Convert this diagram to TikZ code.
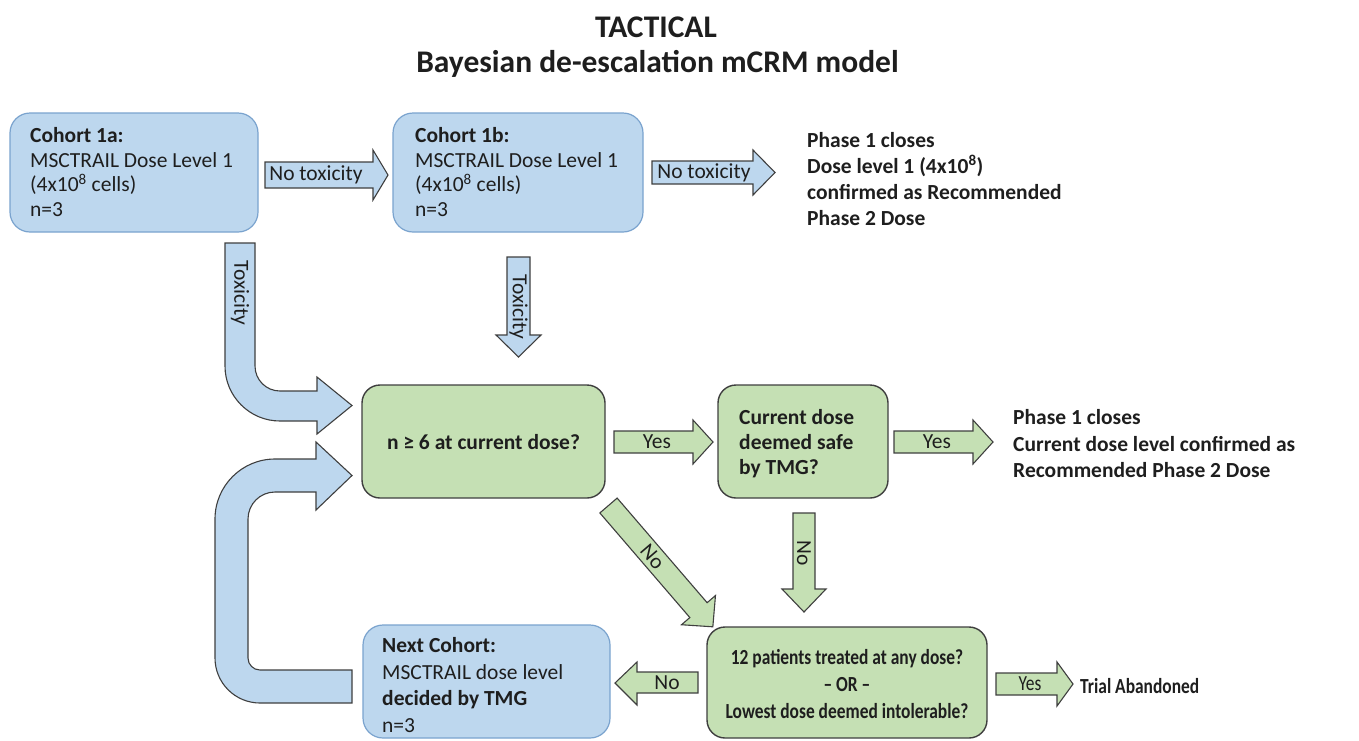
\documentclass[tikz,border=0pt]{standalone}
\usepackage{fontspec}
\setmainfont{Carlito}
\newfontfamily\condf[FakeStretch=0.81]{Carlito}
\definecolor{lblue}{HTML}{BDD7EE}
\definecolor{boxblue}{HTML}{7AA3CE}
\definecolor{lgreen}{HTML}{C5E0B4}
\definecolor{dgray}{HTML}{3F3F3F}
\definecolor{tcol}{HTML}{1E1E1E}
\newcommand\fs{\fontsize{21.5}{24.5}\selectfont}
\newcommand\fsb{\fontsize{21.5}{26}\selectfont\bfseries}
\tikzset{
  bluebox/.style={draw=boxblue, fill=lblue, rounded corners=20pt, line width=1.2pt, inner sep=0pt},
  greenbox/.style={draw=dgray, fill=lgreen, rounded corners=18pt, line width=1.4pt, inner sep=0pt},
  barrowb/.style={draw=dgray, fill=lblue, line width=1.1pt, line join=miter},
  barrowg/.style={draw=dgray, fill=lgreen, line width=1.1pt, line join=miter},
  txt/.style={font=\fs, text=tcol, inner sep=0pt, align=left},
  txtb/.style={font=\fsb, text=tcol, inner sep=0pt, align=left},
  albl/.style={font=\fs, text=tcol, inner sep=0pt},
}
\begin{document}
\begin{tikzpicture}[x=1pt,y=1pt]
\useasboundingbox (0,0) rectangle (1359,-740);
% title
\node[font=\fontsize{31.5}{36}\selectfont\bfseries, text=tcol, anchor=base, inner sep=0pt] (t1) at (656,-37) {TACTICAL};
\node[font=\fontsize{31.5}{36}\selectfont\bfseries, text=tcol, anchor=base, inner sep=0pt] (t2) at (657.5,-72) {Bayesian de-escalation mCRM model};

% boxes
\node[bluebox, minimum width=248pt, minimum height=119pt] (c1a) at (134,-172.5) {};
\node[txt, anchor=west] (c1at) at (30,-172) {\textbf{Cohort 1a:}\\MSCTRAIL Dose Level 1\\(4x10\textsuperscript{8} cells)\\n=3};

\node[bluebox, minimum width=250pt, minimum height=119pt] (c1b) at (518,-172.5) {};
\node[txt, anchor=west] (c1bt) at (415,-172) {\textbf{Cohort 1b:}\\MSCTRAIL Dose Level 1\\(4x10\textsuperscript{8} cells)\\n=3};

\node[txtb, anchor=west] (ph1) at (807,-179) {Phase 1 closes\\Dose level 1 (4x10\textsuperscript{8})\\confirmed as Recommended\\Phase 2 Dose};

\node[greenbox, minimum width=243pt, minimum height=113pt] (q1b) at (483.5,-441.5) {};
\node[txtb] (q1) at (483.5,-442) {n ≥ 6 at current dose?};

\node[greenbox, minimum width=170pt, minimum height=113pt] (q2b) at (803,-441.5) {};
\node[txtb, anchor=west, font=\fontsize{21.5}{25}\selectfont\bfseries] (q2) at (739,-444) {Current dose\\deemed safe\\by TMG?};

\node[txtb, anchor=west, font=\fontsize{21.5}{26.5}\selectfont\bfseries] (ph2) at (1013,-444) {Phase 1 closes\\Current dose level confirmed as\\Recommended Phase 2 Dose};

\node[greenbox, minimum width=280pt, minimum height=111pt] (q3b) at (847,-682.5) {};
\node[txtb, align=center, font=\fontsize{21.5}{27}\selectfont\condf\bfseries] (q3) at (847,-684) {12 patients treated at any dose?\\– OR –\\Lowest dose deemed intolerable?};

\node[bluebox, minimum width=247pt, minimum height=113pt] (ncb) at (486.5,-681.5) {};
\node[txt, anchor=west, font=\fontsize{21.5}{26.5}\selectfont] (nc) at (382,-685) {\textbf{Next Cohort:}\\MSCTRAIL dose level\\\textbf{decided by TMG}\\n=3};

\node[txtb, anchor=west, font=\fontsize{21.5}{26}\selectfont\condf\bfseries] (ab) at (1080,-686) {Trial Abandoned};

% arrows
\draw[barrowb] (265,-162) -- (373,-162) -- (373,-150) -- (388,-175) -- (373,-200) -- (373,-188) -- (265,-188) -- cycle;
\node[albl] (nt1) at (316,-175) {No toxicity};

\draw[barrowb] (652,-161) -- (753,-161) -- (753,-150) -- (775,-172.5) -- (753,-195) -- (753,-184) -- (652,-184) -- cycle;
\node[albl] (nt2) at (704,-172.5) {No toxicity};

\draw[barrowb] (225,-243) -- (225,-366) arc[start angle=180, end angle=270, radius=55] -- (317,-421) -- (317,-434) -- (352,-405.5) -- (317,-377) -- (317,-391) -- (280,-391) arc[start angle=270, end angle=180, radius=25] -- (255,-243) -- cycle;
\node[albl, rotate=-90] (tx1) at (240,-293) {Toxicity};

\draw[barrowb] (507,-257) -- (530,-257) -- (530,-335) -- (541,-335) -- (518.5,-357) -- (496,-335) -- (507,-335) -- cycle;
\node[albl, rotate=-90] (tx2) at (518.5,-307) {Toxicity};

\draw[barrowg] (614,-431) -- (693,-431) -- (693,-420) -- (713,-442) -- (693,-464) -- (693,-453) -- (614,-453) -- cycle;
\node[albl] (y1) at (657,-442) {Yes};

\draw[barrowg] (894,-431) -- (973,-431) -- (973,-420) -- (993,-442) -- (973,-464) -- (973,-453) -- (894,-453) -- cycle;
\node[albl] (y2) at (937,-442) {Yes};

\begin{scope}[shift={(608.5,-505.5)}, rotate=-49.3]
\draw[barrowg] (0,11.4) -- (138,11.4) -- (138,22.4) -- (160,0) -- (138,-22.4) -- (138,-11.4) -- (0,-11.4) -- cycle;
\end{scope}
\node[albl, rotate=-49.3] (n1) at (652.4,-556.6) {No};

\draw[barrowg] (793,-513) -- (815,-513) -- (815,-589) -- (826,-589) -- (804,-612) -- (782,-589) -- (793,-589) -- cycle;
\node[albl, rotate=-90] (n2) at (804,-553) {No};

\draw[barrowg] (698,-672) -- (637,-672) -- (637,-662) -- (615,-683) -- (637,-705) -- (637,-693) -- (698,-693) -- cycle;
\node[albl] (n3) at (667,-683) {No};

\draw[barrowg] (996,-673) -- (1057,-673) -- (1057,-662) -- (1073,-684) -- (1057,-706) -- (1057,-695) -- (996,-695) -- cycle;
\node[albl, font=\fs\condf] (y3) at (1030,-684) {Yes};

\draw[barrowb] (352,-670) -- (260,-670) arc[start angle=270, end angle=180, radius=12] -- (248,-519) arc[start angle=180, end angle=90, radius=27] -- (316,-492) -- (316,-510) -- (352,-475.5) -- (316,-442) -- (316,-459) -- (275,-459) arc[start angle=90, end angle=180, radius=60] -- (215,-658) arc[start angle=180, end angle=270, radius=45] -- (352,-703) -- cycle;
\end{tikzpicture}
\end{document}
